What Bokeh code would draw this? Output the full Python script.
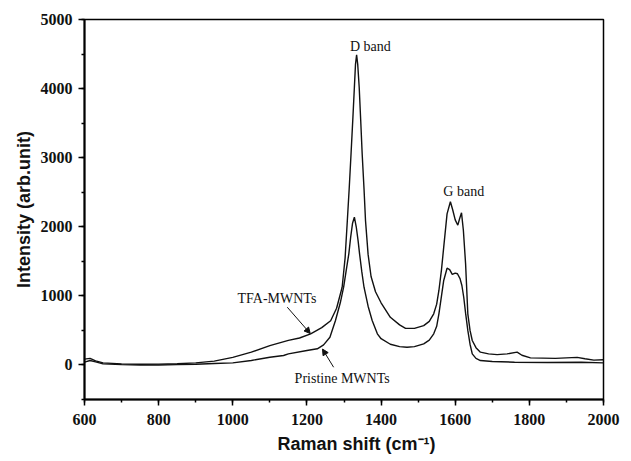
from bokeh.plotting import figure
from bokeh.models import Label, Arrow, NormalHead, FixedTicker, Range1d
from bokeh.embed import file_html
from bokeh.resources import INLINE

# Raman shift (cm-1) and intensity for TFA-MWNTs
tfa_x = [600, 615, 630, 650, 700, 750, 800, 850, 900, 950, 1000, 1050, 1100, 1150, 1180, 1210,
         1240, 1264, 1280, 1295, 1303, 1309, 1314, 1319, 1324, 1328, 1331, 1334, 1337, 1341,
         1345, 1349, 1354, 1358, 1365, 1373, 1385, 1400, 1425, 1450, 1466, 1490, 1515, 1530,
         1542, 1550, 1556, 1563, 1569, 1578, 1587, 1593, 1600, 1607, 1612, 1617, 1622, 1628,
         1634, 1640, 1646, 1656, 1668, 1690, 1713, 1740, 1767, 1780, 1803, 1870, 1929, 1950,
         1974, 2000]
tfa_y = [85, 95, 60, 30, 15, 10, 12, 18, 30, 55, 110, 185, 280, 355, 390, 450,
         540, 640, 820, 1125, 1550, 2090, 2550, 3056, 3580, 4020, 4350, 4490, 4350, 4020,
         3550, 3056, 2550, 2090, 1600, 1280, 1060, 900, 690, 580, 530, 530, 570, 630,
         740, 880, 1078, 1380, 1705, 2187, 2362, 2250, 2100, 2023, 2120, 2202, 1950, 1463,
         740, 500, 354, 250, 185, 160, 150, 160, 185, 140, 103, 95, 110, 90,
         70, 75]

# Raman shift (cm-1) and intensity for Pristine MWNTs
pri_x = [600, 615, 630, 650, 700, 750, 800, 850, 900, 950, 1000, 1050, 1100, 1137, 1150, 1200,
         1228, 1245, 1262, 1277, 1290, 1299, 1306, 1313, 1318, 1323, 1328, 1333, 1338, 1342,
         1348, 1354, 1365, 1376, 1390, 1400, 1425, 1450, 1470, 1490, 1515, 1530, 1542, 1550,
         1556, 1563, 1569, 1578, 1585, 1592, 1600, 1606, 1613, 1618, 1623, 1628, 1634, 1640,
         1646, 1656, 1668, 1700, 1760, 1850, 1940, 2000]
pri_y = [40, 65, 45, 15, 5, 0, 0, 5, 10, 20, 30, 65, 112, 137, 160, 210,
         234, 290, 400, 643, 900, 1125, 1370, 1608, 1850, 2050, 2138, 2000, 1800, 1608,
         1350, 1125, 850, 643, 450, 380, 300, 265, 257, 265, 306, 360, 450, 560,
         740, 1000, 1223, 1400, 1380, 1310, 1330, 1320, 1250, 1150, 980, 750, 500, 300,
         160, 95, 64, 50, 40, 35, 40, 30]

x_ticks = [600, 800, 1000, 1200, 1400, 1600, 1800, 2000]
y_ticks = [0, 1000, 2000, 3000, 4000, 5000]

p = figure(width=631, height=461, output_backend="svg", toolbar_location=None,
           x_range=Range1d(600, 2000), y_range=Range1d(-500, 5000))
p.min_border_left = 84
p.min_border_right = 28
p.min_border_top = 19
p.min_border_bottom = 62
p.xgrid.visible = False
p.ygrid.visible = False
p.background_fill_color = "white"
p.border_fill_color = "white"
p.outline_line_color = "black"
p.outline_line_width = 1.5

p.line(tfa_x, tfa_y, line_color="#111111", line_width=1.4)
p.line(pri_x, pri_y, line_color="#111111", line_width=1.4)

SERIF = "Liberation Serif"
for ax in (p.xaxis[0], p.yaxis[0]):
    ax.axis_line_width = 2
    ax.axis_line_color = "black"
    ax.major_tick_line_width = 1.5
    ax.minor_tick_line_width = 1.5
    ax.major_tick_in = 0
    ax.minor_tick_in = 0
    ax.major_tick_out = 6
    ax.minor_tick_out = 3
    ax.major_label_text_font = SERIF
    ax.major_label_text_font_style = "bold"
    ax.major_label_text_font_size = "16px"
    ax.major_label_text_color = "#111111"
    ax.axis_label_text_font = "Liberation Sans"
    ax.axis_label_text_font_style = "bold"
    ax.axis_label_text_font_size = "18px"
    ax.axis_label_text_color = "#111111"

p.xaxis.ticker = FixedTicker(ticks=x_ticks, minor_ticks=list(range(600, 2001, 100)))
p.yaxis.ticker = FixedTicker(ticks=y_ticks, minor_ticks=list(range(-500, 5001, 500)))
p.xaxis.major_label_standoff = 8
p.yaxis.major_label_standoff = 6
# leading no-break spaces nudge the centred title slightly right, as in the original
p.xaxis.axis_label = "\u00a0\u00a0\u00a0\u00a0\u00a0Raman shift (cm\u207b\u00b9)"
p.yaxis.axis_label = "Intensity (arb.unit)"
p.xaxis.axis_label_standoff = 6
p.yaxis.axis_label_standoff = 4

serif = dict(text_font=SERIF, text_font_size="14px", text_color="#111111")
p.add_layout(Label(x=1371, y=4609, text="D band", text_align="center", text_baseline="middle", **serif))
p.add_layout(Label(x=1623, y=2510, text="G band", text_align="center", text_baseline="middle", **serif))
p.add_layout(Label(x=1119, y=962, text="TFA-MWNTs", text_align="center", text_baseline="middle", **serif))
p.add_layout(Label(x=1295, y=-192, text="Pristine MWNTs", text_align="center", text_baseline="middle", **serif))

p.add_layout(Arrow(end=NormalHead(size=6, fill_color="#111111", line_color="#111111"),
                   x_start=1147, y_start=836, x_end=1209, y_end=455,
                   line_color="#111111", line_width=1))
p.add_layout(Arrow(end=NormalHead(size=6, fill_color="#111111", line_color="#111111"),
                   x_start=1272, y_start=-33, x_end=1242, y_end=230,
                   line_color="#111111", line_width=1))

open("out.html", "w").write(file_html(p, INLINE))
